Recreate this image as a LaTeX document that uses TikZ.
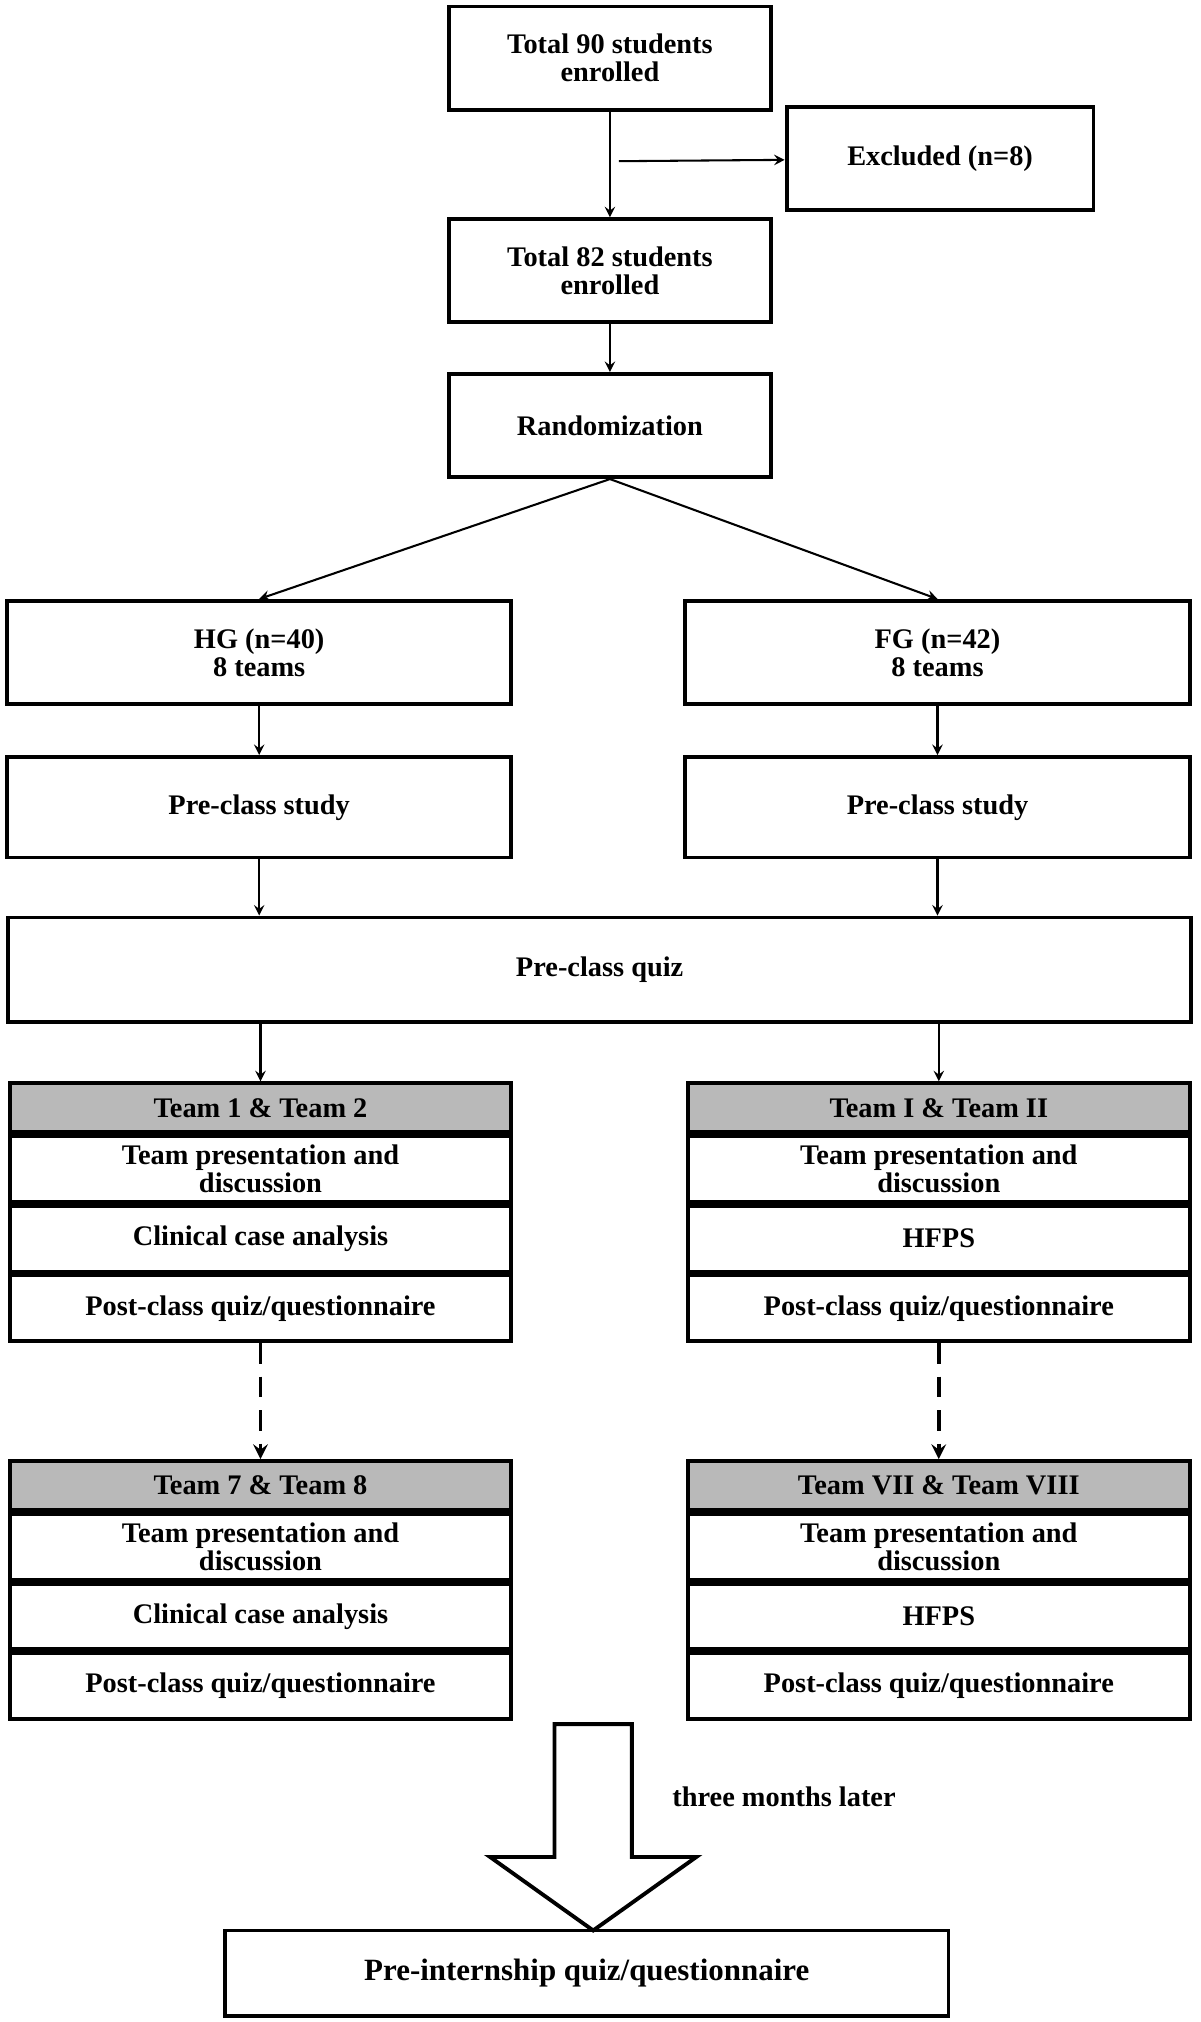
\documentclass[tikz,border=0pt]{standalone}
\usepackage{fontspec}
\setmainfont{Liberation Serif}
\usetikzlibrary{positioning}
\tikzset{
  box/.style={draw,line width=1.5pt,rectangle,align=center,font=\bfseries\fontsize{11}{11}\selectfont,inner sep=1pt},
  row/.style={box,minimum width=194.5pt,minimum height=25.5pt},
  head/.style={row,fill=gray!55,minimum height=19pt},
  link/.style={->,>=stealth,line width=0.8pt},
}
\begin{document}
\begin{tikzpicture}[x=0.5pt,y=-0.5pt]
\useasboundingbox (0,0) rectangle (931,1568);
%% top part
  \node (total) at (473,45) [box,minimum width=125pt,minimum height=40pt] {Total 90 students\\enrolled};
  \node (excl) at (729,123) [box,minimum width=119pt,minimum height=40pt] {Excluded (n=8)};
  \node (left) at (473,210) [box,minimum width=125pt,minimum height=40pt] {Total 82 students\\enrolled};
  \node (rand) at (473,330) [box,minimum width=125pt,minimum height=40pt] {Randomization};
  \coordinate (split) at (480,125);
  \draw [link] (total) -- (left);
  \draw [link] (split) -- (excl);
  \draw [link] (left) -- (rand);
%% groups
  \node (hg) at (201,506) [box,minimum width=195.5pt,minimum height=40pt] {HG (n=40)\\8 teams};
  \node (fg) at (727,506) [box,minimum width=195.5pt,minimum height=40pt] {FG (n=42)\\8 teams};
  \node (hgstudy) at (201,626) [box,minimum width=195.5pt,minimum height=39pt] {Pre-class study};
  \node (fgstudy) at (727,626) [box,minimum width=195.5pt,minimum height=39pt] {Pre-class study};
  \node (quiz) at (465,752) [box,minimum width=458.5pt,minimum height=40.5pt] {Pre-class quiz};
  \draw [link] (rand.south) -- (hg.north);
  \draw [link] (rand.south) -- (fg.north);
  \draw [link] (hg) -- (hgstudy);
  \draw [link] (fg) -- (fgstudy);
  \draw [link] (hgstudy) -- (hgstudy |- quiz.north);
  \draw [link] (fgstudy) -- (fgstudy |- quiz.north);
%% team blocks
  \node (ha) at (202,859) [head] {Team 1 \& Team 2};
  \node (ha1) [row,below=0pt of ha] {Team presentation and\\discussion};
  \node (ha2) [row,below=0pt of ha1] {Clinical case analysis};
  \node (ha3) [row,below=0pt of ha2] {Post-class quiz/questionnaire};
  \node (fa) at (728,859) [head] {Team I \& Team II};
  \node (fa1) [row,below=0pt of fa] {Team presentation and\\discussion};
  \node (fa2) [row,below=0pt of fa1] {HFPS};
  \node (fa3) [row,below=0pt of fa2] {Post-class quiz/questionnaire};
  \node (hb) at (202,1152) [head] {Team 7 \& Team 8};
  \node (hb1) [row,below=0pt of hb] {Team presentation and\\discussion};
  \node (hb2) [row,below=0pt of hb1] {Clinical case analysis};
  \node (hb3) [row,below=0pt of hb2] {Post-class quiz/questionnaire};
  \node (fb) at (728,1152) [head] {Team VII \& Team VIII};
  \node (fb1) [row,below=0pt of fb] {Team presentation and\\discussion};
  \node (fb2) [row,below=0pt of fb1] {HFPS};
  \node (fb3) [row,below=0pt of fb2] {Post-class quiz/questionnaire};
  \draw [link] (quiz.south -| ha.north) -- (ha.north);
  \draw [link] (quiz.south -| fa.north) -- (fa.north);
  \draw [link,dashed,dash pattern=on 8pt off 5pt,line width=1.5pt] (ha3) -- (hb);
  \draw [link,dashed,dash pattern=on 8pt off 5pt,line width=1.5pt] (fa3) -- (fb);
%% final step
  \node (final) at (455,1530) [box,minimum width=280.5pt,minimum height=33pt,font=\bfseries\fontsize{12}{12}\selectfont] {Pre-internship quiz/questionnaire};
  \draw [line width=1.5pt,fill=white] (430,1337) -- (490,1337) -- (490,1440) -- (540,1440)
    -- (460,1497) -- (380,1440) -- (430,1440) -- cycle;
  \node (later) at (608,1393) [font=\bfseries\fontsize{11}{11}\selectfont] {three months later};
\end{tikzpicture}
\end{document}
